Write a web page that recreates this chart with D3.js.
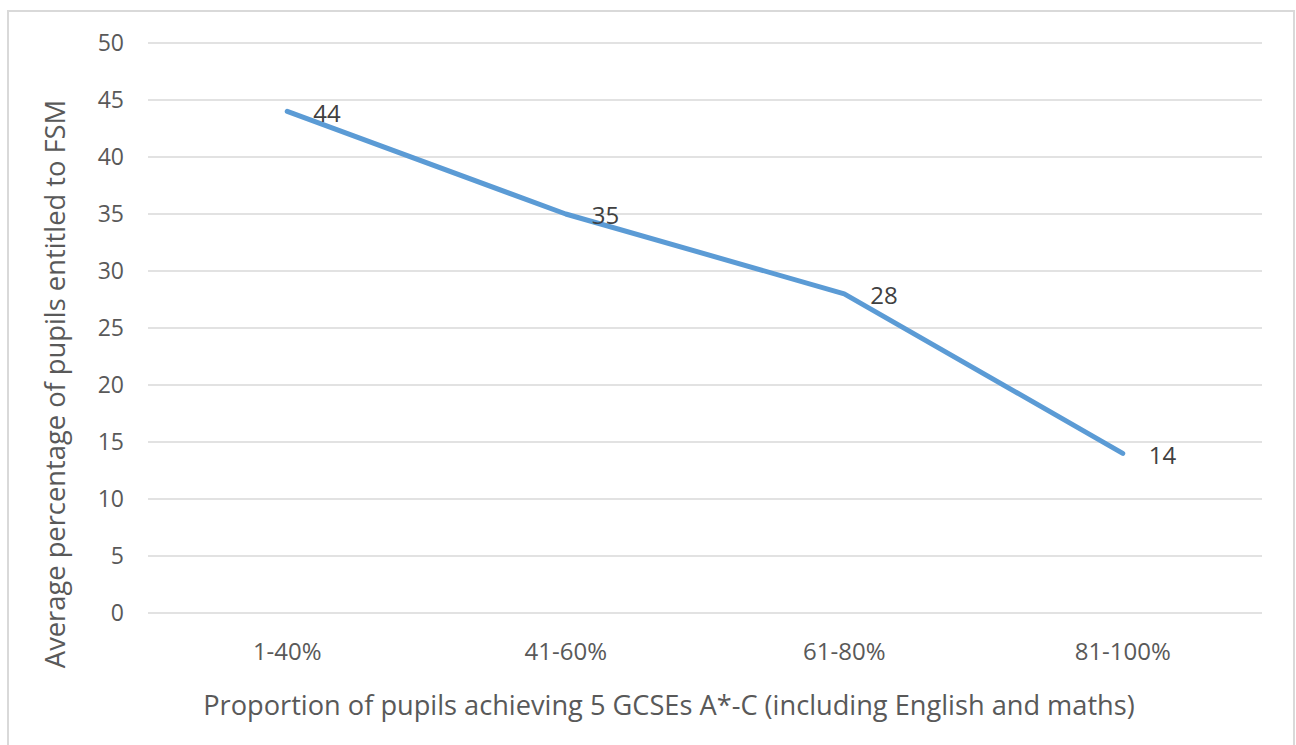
<!DOCTYPE html>
<html><head><meta charset="utf-8">
<script src="https://cdn.jsdelivr.net/npm/d3@7"></script>
<style>body{margin:0;background:#fff}svg{display:block}text{font-family:"Open Sans","Noto Sans",sans-serif}</style>
</head><body>
<script>
const categories = ["1-40%","41-60%","61-80%","81-100%"];
const values = [44,35,28,14];
const yTicks = [0,5,10,15,20,25,30,35,40,45,50];
const xTitle = "Proportion of pupils achieving 5 GCSEs A*-C (including English and maths)";
const yTitle = "Average percentage of pupils entitled to FSM";

const W=1296,H=745;
const svg=d3.select("body").append("svg").attr("width",W).attr("height",H);
svg.append("rect").attr("x",8).attr("y",11).attr("width",1286).attr("height",740)
  .attr("fill","#fff").attr("stroke","#d9d9d9").attr("stroke-width",2);

const pL=148,pR=1262,pT=43,pB=613;
const x=d3.scaleBand().domain(categories).range([pL,pR]);
const y=d3.scaleLinear().domain([0,50]).range([pB,pT]);
const grey="#595959";

svg.append("g").selectAll("line").data(yTicks).join("line")
  .attr("x1",pL).attr("x2",pR).attr("y1",d=>y(d)).attr("y2",d=>y(d))
  .attr("stroke","#d9d9d9").attr("stroke-width",1.3);
svg.append("g").selectAll("text").data(yTicks).join("text")
  .attr("x",124).attr("y",d=>y(d)).attr("dy","0.35em").attr("text-anchor","end")
  .attr("font-size",23).attr("fill",grey).text(d=>d);
svg.append("g").selectAll("text").data(categories).join("text")
  .attr("x",d=>x(d)+x.bandwidth()/2).attr("y",652).attr("dy","0.35em").attr("text-anchor","middle")
  .attr("font-size",24).attr("fill",grey).text(d=>d);

const pts=categories.map((c,i)=>({c,v:values[i]}));
const line=d3.line().x(d=>x(d.c)+x.bandwidth()/2).y(d=>y(d.v));
svg.append("path").datum(pts).attr("d",line).attr("fill","none")
  .attr("stroke","#5b9bd5").attr("stroke-width",5).attr("stroke-linecap","round").attr("stroke-linejoin","round");
svg.append("g").selectAll("text").data(pts).join("text")
  .attr("x",d=>x(d.c)+x.bandwidth()/2+26).attr("y",d=>y(d.v)+2).attr("dy","0.35em")
  .attr("font-size",24).attr("fill","#404040").text(d=>d.v);

svg.append("text").attr("x",669).attr("y",705).attr("dy","0.35em").attr("text-anchor","middle")
  .attr("font-size",27.2).attr("fill",grey).text(xTitle);
svg.append("text").attr("transform","translate(55,384) rotate(-90)").attr("dy","0.35em").attr("text-anchor","middle")
  .attr("font-size",27.3).attr("fill",grey).text(yTitle);
</script>
</body></html>
